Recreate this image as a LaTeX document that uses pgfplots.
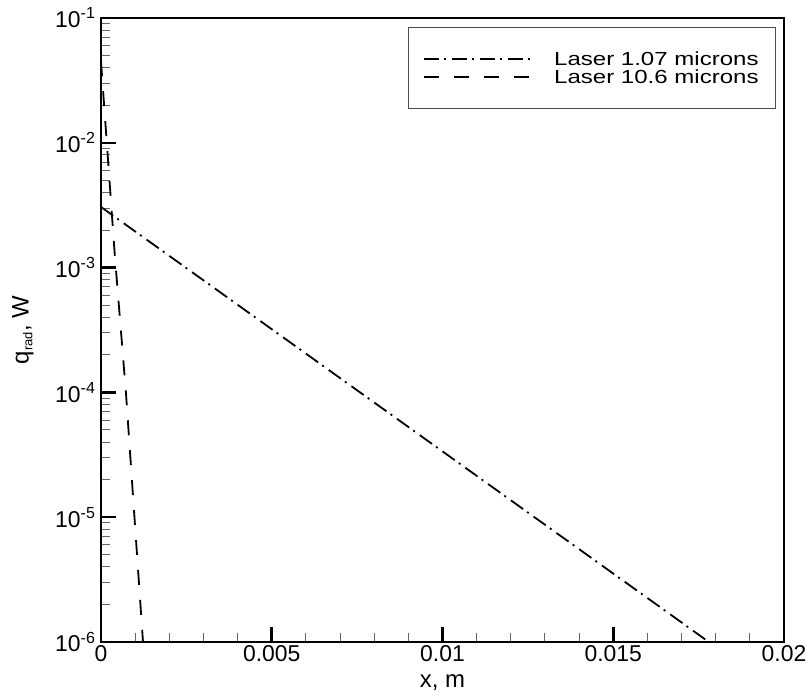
\documentclass[border=0pt]{standalone}
\usepackage{pgfplots}
\pgfplotsset{compat=1.18}
\usepackage{fontspec}
\setmainfont{Liberation Sans}
\newfontfamily\legfont{Liberation Sans}[FakeStretch=1.27]

\begin{document}
\begin{tikzpicture}[x=1bp,y=1bp]
\useasboundingbox (-101bp,-54bp) rectangle (710bp,642bp);
\begin{axis}[
    at={(0,0)}, anchor=south west,
    scale only axis,
    width=683bp, height=624bp,
    ymode=log,
    xmin=0, xmax=0.02,
    ymin=1e-6, ymax=1e-1,
    axis line style={line width=2.8bp},
    tick align=inside,
    xtick pos=left, ytick pos=left,
    xtick={0,0.005,0.01,0.015,0.02},
    xticklabels={0,0.005,0.01,0.015,0.02},
    minor xtick={0.001,0.002,0.003,0.004,0.006,0.007,0.008,0.009,0.011,0.012,0.013,0.014,0.016,0.017,0.018,0.019},
    ytick={1e-6,1e-5,1e-4,1e-3,1e-2,1e-1},
    yticklabels={10\textsuperscript{-6},10\textsuperscript{-5},10\textsuperscript{-4},10\textsuperscript{-3},10\textsuperscript{-2},10\textsuperscript{-1}},
    major tick length=15bp,
    minor tick length=9bp,
    every major tick/.style={line width=2.5bp, black},
    every minor tick/.style={line width=1bp, black!60},
    ticklabel style={font=\fontsize{23}{26}\selectfont},
    yticklabel style={xshift=-2bp},
    scaled x ticks=false,
    xlabel={x, m},
    ylabel={q\textsubscript{\fontsize{13}{13}\selectfont rad}, W},
    label style={font=\fontsize{24}{27}\selectfont},
    xlabel style={at={(rel axis cs:0.5,0)}, anchor=base, yshift=-45bp},
    ylabel style={at={(rel axis cs:0,0.5)}, anchor=center, yshift=78bp},
    legend style={at={(rel axis cs:1,1)}, anchor=north east, xshift=-8bp, yshift=-9bp,
        draw=black!70, line width=0.8bp, font=\legfont\fontsize{19}{21}\selectfont,
        inner xsep=15bp, inner ysep=22bp, row sep=-1bp,
        nodes={inner sep=2bp},
        /tikz/every odd column/.append style={column sep=17bp}},
    legend cell align=left,
    legend image code/.code={\draw[#1] (0bp,0bp) -- (110bp,0bp);},
]
\addplot[black, line width=1.8bp, dash pattern=on 15bp off 5bp on 2bp off 6bp]
    coordinates {(0,3.06e-3) (0.0178,1e-6)};
\addlegendentry{Laser 1.07 microns}
\addplot[black, line width=1.8bp, dash pattern=on 15bp off 15bp]
    coordinates {(0,0.045) (0.00041,1.2e-3) (0.00073,1e-4) (0.00123,1e-6)};
\addlegendentry{Laser 10.6 microns}
\end{axis}
\end{tikzpicture}
\end{document}
